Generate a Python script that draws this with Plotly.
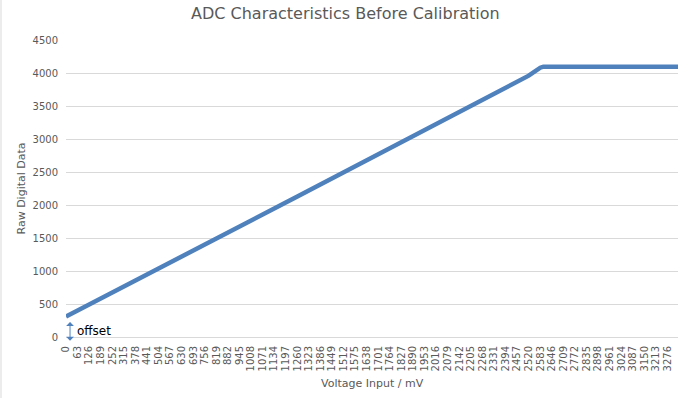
import plotly.graph_objects as go

# Voltage input (mV) sample points
voltage_mv = [0, 63, 126, 189, 252, 315, 378, 441, 504, 567, 630, 693, 756, 819,
              882, 945, 1008, 1071, 1134, 1197, 1260, 1323, 1386, 1449, 1512, 1575,
              1638, 1701, 1764, 1827, 1890, 1953, 2016, 2079, 2142, 2205, 2268,
              2331, 2394, 2457, 2520, 2583, 2600, 2646, 2709, 2772, 2835, 2898,
              2961, 3024, 3087, 3150, 3213, 3276, 3333]
# Raw ADC code
raw_data = [310, 400, 492, 583, 673, 765, 855, 946, 1037, 1128, 1219, 1310, 1401,
            1492, 1583, 1674, 1765, 1856, 1947, 2038, 2129, 2220, 2311, 2402, 2493,
            2584, 2675, 2766, 2857, 2948, 3039, 3130, 3221, 3312, 3403, 3494, 3585,
            3676, 3767, 3858, 3960, 4080, 4095, 4095, 4095, 4095, 4095, 4095, 4095,
            4095, 4095, 4095, 4095, 4095, 4095]

x_tick_labels = ["0", "63", "126", "189", "252", "315", "378", "441", "504", "567",
                 "630", "693", "756", "819", "882", "945", "1008", "1071", "1134",
                 "1197", "1260", "1323", "1386", "1449", "1512", "1575", "1638",
                 "1701", "1764", "1827", "1890", "1953", "2016", "2079", "2142",
                 "2205", "2268", "2331", "2394", "2457", "2520", "2583", "2646",
                 "2709", "2772", "2835", "2898", "2961", "3024", "3087", "3150",
                 "3213", "3276"]
x_tick_vals = [int(v) for v in x_tick_labels]
y_tick_vals = [0, 500, 1000, 1500, 2000, 2500, 3000, 3500, 4000, 4500]

FONT = "DejaVu Sans"
GREY = "#595959"
GRID = "#d9d9d9"
BLUE = "#4f81bd"

fig = go.Figure()
fig.add_trace(go.Scatter(
    x=voltage_mv, y=raw_data, mode="lines",
    line=dict(color=BLUE, width=4.5), hoverinfo="skip", showlegend=False,
))

fig.update_layout(
    width=688, height=398,
    margin=dict(l=66, r=10, t=40, b=61),
    paper_bgcolor="white", plot_bgcolor="white",
    font=dict(family=FONT, color=GREY, size=10),
    showlegend=False,
)
fig.update_xaxes(
    range=[0, 3333], tickmode="array", tickvals=x_tick_vals, ticktext=x_tick_labels,
    tickangle=-90, tickfont=dict(size=10, color=GREY, family=FONT),
    showgrid=False, zeroline=False, showline=True, linecolor=GRID, linewidth=1,
    ticks="", ticklabelstandoff=4,
)
fig.update_yaxes(
    range=[0, 4500], tickmode="array", tickvals=y_tick_vals,
    tickfont=dict(size=10, color=GREY, family=FONT),
    showgrid=True, gridcolor=GRID, gridwidth=1, zeroline=False, showline=False,
    ticks="", ticklabelstandoff=7,
)

# Title and axis titles
fig.add_annotation(text="ADC Characteristics Before Calibration", xref="paper", yref="paper",
                   x=(345.5 - 66) / 612, y=(337 - 14) / 297, showarrow=False,
                   font=dict(size=16, color=GREY, family=FONT), xanchor="center", yanchor="middle")
fig.add_annotation(text="Voltage Input / mV", xref="paper", yref="paper",
                   x=0.5, y=(337 - 383) / 297, showarrow=False,
                   font=dict(size=11, color=GREY, family=FONT), xanchor="center", yanchor="middle")
fig.add_annotation(text="Raw Digital Data", xref="paper", yref="paper",
                   x=(21 - 66) / 612, y=0.5, showarrow=False, textangle=-90,
                   font=dict(size=11, color=GREY, family=FONT), xanchor="center", yanchor="middle")

# Offset arrow and label
fig.add_annotation(x=22, y=-55, ax=22, ay=250, xref="x", yref="y", axref="x", ayref="y",
                   text="", showarrow=True, arrowhead=1, startarrowhead=1, arrowside="end+start",
                   arrowsize=1.3, startarrowsize=1.3, arrowwidth=1, arrowcolor=BLUE)
fig.add_annotation(text="offset", xref="paper", yref="paper",
                   x=(75 - 66) / 612, y=(337 - 331) / 297, showarrow=False,
                   font=dict(size=12, color="black", family=FONT), xanchor="left", yanchor="middle")

# Chart area border (left edge visible)
fig.add_shape(type="line", xref="paper", yref="paper",
              x0=(1 - 66) / 612, x1=(1 - 66) / 612, y0=(337 - 398) / 297, y1=337 / 297,
              line=dict(color=GRID, width=1))

fig.write_html("out.html", config={"displayModeBar": False},
               post_script="document.body.style.margin='0';document.body.style.overflow='hidden';")
